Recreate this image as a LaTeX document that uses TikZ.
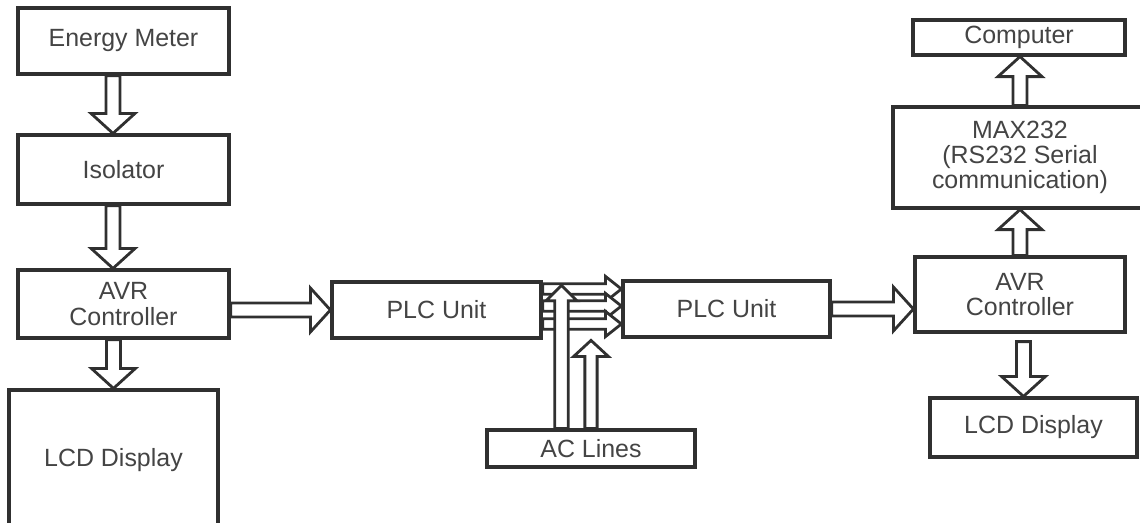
\documentclass[tikz,border=0pt]{standalone}
\usepackage{fontspec}
\setmainfont{Liberation Sans}
\usetikzlibrary{calc}
\definecolor{linegray}{HTML}{303030}
\definecolor{textgray}{HTML}{444444}

\tikzset{
  blockbox/.style={draw=linegray, line width=2.4pt, fill=white, inner sep=2pt, align=center, text=textgray, font=\fontsize{18.7}{19}\selectfont},
  fatline/.style={draw=linegray, line width=2.1pt, fill=white, line join=miter},
  shaft half/.store in=\arrsw, head half/.store in=\arrhw, head len/.store in=\arrhl,
  shaft half=5.2pt, head half=16.5pt, head len=15pt
}

% hollow block arrow from #2 to #3
\newcommand{\fatarrow}[3][]{%
  \begin{scope}[#1]
    \coordinate (neck) at ($(#3)!\arrhl!(#2)$);
    \draw[fatline] ($(#2)!\arrsw!90:(#3)$) -- ($(neck)!\arrsw!90:(#3)$)
      -- ($(neck)!\arrhw!90:(#3)$) -- (#3) -- ($(neck)!\arrhw!-90:(#3)$)
      -- ($(neck)!\arrsw!-90:(#3)$) -- ($(#2)!\arrsw!-90:(#3)$) -- cycle;
  \end{scope}}

\begin{document}
\begin{tikzpicture}[x=0.75pt,y=0.75pt,yscale=-1,xscale=1]
\useasboundingbox (0,0) rectangle (1140,522);
        % left column
        \node[blockbox, minimum width=158.25pt, minimum height=49.5pt] (em) at (123.5,41) {Energy Meter};
        \node[blockbox, minimum width=158.25pt, minimum height=51.75pt] (iso) at (123.5,169.5) {Isolator};
        \node[blockbox, minimum width=158.25pt, minimum height=51pt] (avrl) at (123.5,304) {AVR\\Controller};
        \node[blockbox, minimum width=156.75pt, minimum height=105pt] (lcdl) at (113.5,460) {LCD Display};
        % middle
        \node[blockbox, minimum width=156.75pt, minimum height=42pt] (plcl) at (436.5,310) {PLC Unit};
        \node[blockbox, minimum width=155.25pt, minimum height=42pt] (plcr) at (726.5,309) {PLC Unit};
        \node[blockbox, minimum width=156pt, minimum height=27.75pt] (ac) at (591,448.5) {AC Lines};
        % right column
        \node[blockbox, minimum width=159pt, minimum height=26.25pt] (comp) at (1019,37.5) {Computer};
        \node[blockbox, minimum width=190.5pt, minimum height=75.75pt] (max) at (1020,157.5) {MAX232\\(RS232 Serial\\communication)};
        \node[blockbox, minimum width=157.5pt, minimum height=56.25pt] (avrr) at (1020,294.5) {AVR\\Controller};
        \node[blockbox, minimum width=155.25pt, minimum height=44.25pt] (lcdr) at (1033.5,427.5) {LCD Display};

        % arrows, left
        \coordinate (s1) at ($(em.south)+(-10.5,0)$);
        \coordinate (e1) at (s1 |- iso.north);
        \fatarrow{s1}{e1}
        \coordinate (s2) at ($(iso.south)+(-10.5,0)$);
        \coordinate (e2) at (s2 |- avrl.north);
        \fatarrow{s2}{e2}
        \coordinate (s3) at (lcdl.north |- avrl.south);
        \fatarrow{s3}{lcdl.north}
        \coordinate (s4) at (avrl.east |- plcl.west);
        \fatarrow{s4}{plcl.west}

        % PLC to PLC
        \foreach \dy [count=\i] in {-21,-4,14} {
          \coordinate (p\i) at ($(plcl.east)+(0,\dy)$);
          \coordinate (q\i) at (p\i -| plcr.west);
          \fatarrow[shaft half=4pt, head half=9.5pt, head len=12pt]{p\i}{q\i}
        }

        % AC lines
        \coordinate (acl) at ($(ac.north)+(-29.5,0)$);
        \coordinate (acltip) at ($(acl)+(0,-143)$);
        \fatarrow[shaft half=5pt, head half=11.6pt, head len=11.5pt]{acl}{acltip}
        \coordinate (acrtip) at ($(ac.north)+(0,-88)$);
        \fatarrow[shaft half=4.6pt, head half=13pt, head len=12pt]{ac.north}{acrtip}

        % arrows, right
        \coordinate (e5) at (plcr.east -| avrr.west);
        \fatarrow{plcr.east}{e5}
        \coordinate (e6) at (avrr.north |- max.south);
        \fatarrow{avrr.north}{e6}
        \coordinate (e7) at (max.north |- comp.south);
        \fatarrow{max.north}{e7}
        \coordinate (s8) at ($(avrr.south)+(3.5,8)$);
        \coordinate (e8) at (s8 |- lcdr.north);
        \fatarrow{s8}{e8}
\end{tikzpicture}
\end{document}
